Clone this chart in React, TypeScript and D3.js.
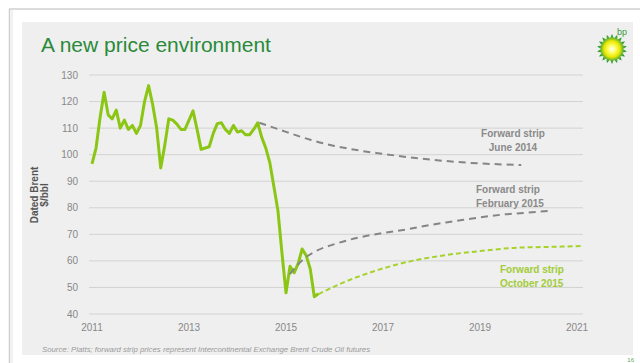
import React from "react";
import * as d3 from "d3";

const spotStartYear = 2011;
const spotValues = [
  96.5, 102.5, 114.0, 123.5, 115.0, 113.5, 116.8, 110.0, 113.0, 109.5, 111.0, 108.0,
  111.0, 120.0, 126.0, 119.0, 110.0, 95.0, 103.5, 113.5, 113.0, 111.5, 109.5, 109.5,
  113.0, 116.5, 109.5, 102.0, 102.5, 103.0, 108.0, 111.7, 112.0, 109.5, 108.0, 111.0,
  108.5, 109.0, 107.5, 107.5, 109.5, 112.0, 106.5, 102.5, 97.0, 88.0, 79.0, 63.0,
  48.0, 58.0, 55.5, 59.0, 64.5, 62.0, 57.0, 46.5, 47.6,
];

const june2014Years = [2014.45, 2015, 2015.5, 2016, 2016.5, 2017, 2017.5, 2018, 2018.5, 2019, 2019.5, 2019.85];
const june2014Values = [112, 108.6, 105.6, 103.3, 101.6, 100.3, 99.1, 98.1, 97.3, 96.7, 96.3, 96.1];

const feb2015Years = [2015.08, 2015.35, 2015.6, 2016, 2016.5, 2017, 2017.5, 2018, 2018.5, 2019, 2019.5, 2020, 2020.4];
const feb2015Values = [55, 60.5, 63.5, 66.3, 68.8, 70.5, 71.9, 73.6, 75, 76.4, 77.5, 78.2, 78.8];

const oct2015Years = [2015.67, 2016.2, 2016.9, 2017.6, 2018.3, 2019, 2019.7, 2020.5, 2021.1];
const oct2015Values = [47.5, 52, 56.6, 60, 62.2, 63.7, 64.9, 65.3, 65.6];

const yTicks = [40, 50, 60, 70, 80, 90, 100, 110, 120, 130];
const xTicks = [2011, 2013, 2015, 2017, 2019, 2021];

const title = "A new price environment";
const yTitle1 = "Dated Brent";
const yTitle2 = "$/bbl";
const source = "Source: Platts; forward strip prices represent Intercontinental Exchange Brent Crude Oil futures";

const FONT = "'Liberation Sans', Arial, sans-serif";

export default function App() {
  const x = d3.scaleLinear().domain([2011, 2021]).range([92, 577]);
  const y = d3.scaleLinear().domain([40, 130]).range([314, 75]);

  const line = d3
    .line<[number, number]>()
    .x((d) => x(d[0]))
    .y((d) => y(d[1]));
  const smooth = d3
    .line<[number, number]>()
    .x((d) => x(d[0]))
    .y((d) => y(d[1]))
    .curve(d3.curveMonotoneX);

  const spot: [number, number][] = spotValues.map((v, i) => [spotStartYear + i / 12, v]);
  const j14: [number, number][] = june2014Years.map((t, i) => [t, june2014Values[i]]);
  const f15: [number, number][] = feb2015Years.map((t, i) => [t, feb2015Values[i]]);
  const o15: [number, number][] = oct2015Years.map((t, i) => [t, oct2015Values[i]]);

  // bp helios star
  const cx = 612;
  const cy = 49;
  const nPetals = 18;
  const starPts: string[] = [];
  for (let i = 0; i < nPetals * 2; i++) {
    const a = (Math.PI * i) / nPetals;
    const r = i % 2 === 0 ? 15 : 11;
    starPts.push(`${cx + r * Math.sin(a)},${cy - r * Math.cos(a)}`);
  }

  return (
    <svg
      width={640}
      height={363}
      style={{ position: "absolute", left: 0, top: 0, display: "block" }}
      fontFamily={FONT}
    >
      <defs>
        <radialGradient id="helios" cx="50%" cy="50%" r="50%">
          <stop offset="0%" stopColor="#ffffff" />
          <stop offset="25%" stopColor="#ffff66" />
          <stop offset="55%" stopColor="#e6e600" />
          <stop offset="75%" stopColor="#66b32e" />
          <stop offset="100%" stopColor="#008a2e" />
        </radialGradient>
      </defs>
      <rect x={0} y={0} width={640} height={363} fill="#ffffff" />
      <line x1={9} y1={9} x2={640} y2={9} stroke="#cfcfcf" strokeWidth={1.5} />
      <line x1={9.5} y1={9} x2={9.5} y2={363} stroke="#cfcfcf" strokeWidth={1.5} />
      <line x1={12} y1={9} x2={12} y2={363} stroke="#e4e4e4" strokeWidth={1} />
      <rect x={22} y={22} width={611} height={333} fill="#efefef" />

      <text x={41} y={52} fontSize={21} fill="#2a8a3a">
        {title}
      </text>

      {yTicks.map((t) => (
        <g key={t}>
          <line x1={89} x2={583} y1={y(t)} y2={y(t)} stroke="#d2d2d2" strokeWidth={1} />
          <text x={78} y={y(t) + 3.5} fontSize={10} fill="#888" textAnchor="end">
            {t}
          </text>
        </g>
      ))}
      {xTicks.map((t) => (
        <text key={t} x={x(t)} y={331} fontSize={10} fill="#888" textAnchor="middle">
          {t}
        </text>
      ))}

      <g transform={`translate(38,195) rotate(-90)`}>
        <text x={0} y={0} fontSize={10} fontWeight="bold" fill="#555" textAnchor="middle">
          {yTitle1}
        </text>
        <text x={0} y={10} fontSize={10} fontWeight="bold" fill="#555" textAnchor="middle">
          {yTitle2}
        </text>
      </g>

      <path d={smooth(j14) || ""} fill="none" stroke="#858585" strokeWidth={2} strokeDasharray="7 5" />
      <path d={smooth(o15) || ""} fill="none" stroke="#a6d22a" strokeWidth={2} strokeDasharray="5 3" />
      <path d={line(spot) || ""} fill="none" stroke="#8cc614" strokeWidth={3} strokeLinejoin="round" />
      <path d={smooth(f15) || ""} fill="none" stroke="#858585" strokeWidth={2} strokeDasharray="7 5" />

      <g fontSize={10} fontWeight="bold" fill="#8a8a8a">
        <text x={513} y={137} textAnchor="middle">Forward strip</text>
        <text x={513} y={151} textAnchor="middle">June 2014</text>
        <text x={476} y={193}>Forward strip</text>
        <text x={476} y={207}>February 2015</text>
      </g>
      <g fontSize={10} fontWeight="bold" fill="#a2cc38">
        <text x={500} y={273}>Forward strip</text>
        <text x={500} y={287}>October 2015</text>
      </g>

      <text x={42} y={352} fontSize={7.8} fontStyle="italic" fill="#9a9a9a">
        {source}
      </text>

      <polygon points={starPts.join(" ")} fill="url(#helios)" />
      <text x={627} y={35} fontSize={9} fill="#3a9a3a" textAnchor="end">bp</text>
      <text x={634} y={362} fontSize={6} fill="#5aaa5a" textAnchor="end">16</text>
    </svg>
  );
}
